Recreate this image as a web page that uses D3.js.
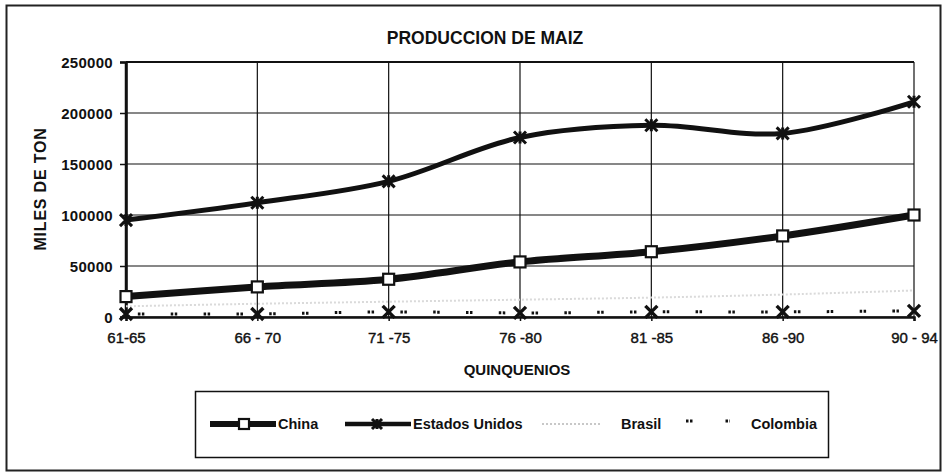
<!DOCTYPE html>
<html>
<head>
<meta charset="utf-8">
<script src="https://cdn.jsdelivr.net/npm/d3@7/dist/d3.min.js"></script>
<style>
  html, body { margin: 0; padding: 0; background: #fff; }
  svg text { font-family: "Liberation Sans", Arial, sans-serif; }
</style>
</head>
<body>
<svg id="chart" width="946" height="474"></svg>
<script>
// ---- Data ----
const categories = ["61-65", "66 - 70", "71 -75", "76 -80", "81 -85", "86 -90", "90 - 94"];
const china = [20000, 29500, 37000, 54000, 64000, 79500, 100000];
const estadosUnidos = [95000, 112000, 133000, 176000, 188000, 180000, 211000];
const brasil = [10500, 13000, 15000, 17000, 19000, 22000, 26000];
const colombia = [3000, 3000, 5000, 4000, 5000, 5000, 6000];
const yTicks = [0, 50000, 100000, 150000, 200000, 250000];
const seriesNames = ["China", "Estados Unidos", "Brasil", "Colombia"];

const svg = d3.select("#chart");
const plot = { left: 126, right: 914, top: 62, bottom: 317 };

// outer frame
svg.append("rect").attr("x", 6.5).attr("y", 5.5).attr("width", 934).attr("height", 465)
  .attr("fill", "none").attr("stroke", "#222").attr("stroke-width", 2);

const x = d3.scalePoint().domain(categories).range([plot.left, plot.right]);
const y = d3.scaleLinear().domain([0, 250000]).range([plot.bottom, plot.top]);

// gridlines
const g = svg.append("g");
g.selectAll(".hg").data(yTicks).enter().append("line")
  .attr("x1", plot.left).attr("x2", plot.right)
  .attr("y1", d => y(d)).attr("y2", d => y(d))
  .attr("stroke", "#111").attr("stroke-width", d => d === 250000 ? 2 : 1.2);
g.selectAll(".vg").data(categories).enter().append("line")
  .attr("x1", d => x(d)).attr("x2", d => x(d))
  .attr("y1", plot.top).attr("y2", plot.bottom)
  .attr("stroke", "#111").attr("stroke-width", (d, i) => i === 0 ? 2.5 : 1.2);

// y axis
const yAxis = d3.axisLeft(y).tickValues(yTicks).tickSize(6).tickFormat(d3.format("d"));
const ya = svg.append("g").attr("transform", `translate(${plot.left},0)`).call(yAxis);
ya.select(".domain").attr("stroke", "#111").attr("stroke-width", 2.5);
ya.selectAll(".tick line").attr("stroke", "#111").attr("stroke-width", 1.5);
ya.selectAll(".tick text").attr("font-size", 15).attr("font-weight", "bold")
  .attr("fill", "#111").attr("x", -13).attr("dy", "0.36em").attr("letter-spacing", 0.3);

// x axis
const xAxis = d3.axisBottom(x).tickSize(4);
const xa = svg.append("g").attr("transform", `translate(0,${plot.bottom})`).call(xAxis);
xa.select(".domain").attr("stroke", "#111").attr("stroke-width", 2.5);
xa.selectAll(".tick line").attr("stroke", "#111").attr("stroke-width", 1.5);
xa.selectAll(".tick text").attr("font-size", 15).attr("fill", "#111")
  .attr("stroke", "#111").attr("stroke-width", 0.4).attr("y", 15);

// titles
svg.append("text").attr("x", 485).attr("y", 44).attr("text-anchor", "middle")
  .attr("font-size", 17.5).attr("font-weight", "bold").attr("fill", "#111")
  .text("PRODUCCION DE MAIZ");
svg.append("text").attr("x", 517).attr("y", 375).attr("text-anchor", "middle")
  .attr("font-size", 15).attr("font-weight", "bold").attr("fill", "#111")
  .text("QUINQUENIOS");
svg.append("text").attr("transform", `translate(46,189) rotate(-90)`).attr("text-anchor", "middle")
  .attr("font-size", 16).attr("font-weight", "bold").attr("fill", "#111").attr("letter-spacing", 0.8)
  .text("MILES DE TON");

// lines
const curve = d3.curveCatmullRom.alpha(0.5);
const line = d3.line().x((d, i) => x(categories[i])).y(d => y(d)).curve(curve);

const pl = svg.append("g");
pl.append("path").datum(brasil).attr("d", line).attr("fill", "none")
  .attr("stroke", "#dadada").attr("stroke-width", 2).attr("stroke-dasharray", "2,2");
pl.append("path").datum(colombia).attr("d", line).attr("fill", "none")
  .attr("stroke", "#111").attr("stroke-width", 3).attr("stroke-dasharray", "2.5,1.5,2.5,26.3")
  .attr("stroke-dashoffset", -12);
pl.append("path").datum(china).attr("d", line).attr("fill", "none")
  .attr("stroke", "#111").attr("stroke-width", 7);
pl.append("path").datum(estadosUnidos).attr("d", line).attr("fill", "none")
  .attr("stroke", "#111").attr("stroke-width", 5);

// marker helpers
function squareMarker(sel, cx, cy, s) {
  sel.append("rect").attr("x", cx - s / 2).attr("y", cy - s / 2).attr("width", s).attr("height", s)
    .attr("fill", "#fff").attr("stroke", "#111").attr("stroke-width", 2.2);
}
function starMarker(sel, cx, cy, s) {
  const h = s / 2;
  sel.append("path").attr("d",
    `M${cx - h},${cy - h}L${cx + h},${cy + h}M${cx - h},${cy + h}L${cx + h},${cy - h}M${cx},${cy - h}L${cx},${cy + h}`)
    .attr("stroke", "#111").attr("stroke-width", 3).attr("fill", "none");
}
function xMarker(sel, cx, cy, s) {
  const h = s / 2;
  sel.append("path").attr("d",
    `M${cx - h},${cy - h}L${cx + h},${cy + h}M${cx - h},${cy + h}L${cx + h},${cy - h}`)
    .attr("stroke", "#111").attr("stroke-width", 3.4).attr("fill", "none");
}

const mk = svg.append("g");
colombia.forEach((v, i) => xMarker(mk, x(categories[i]), y(v), 12));
china.forEach((v, i) => squareMarker(mk, x(categories[i]), y(v), 11));
estadosUnidos.forEach((v, i) => starMarker(mk, x(categories[i]), y(v), 12));

// legend
const lg = svg.append("g");
lg.append("rect").attr("x", 195.5).attr("y", 391.5).attr("width", 633).attr("height", 66)
  .attr("fill", "#fff").attr("stroke", "#111").attr("stroke-width", 1.5);
const ly = 424;
lg.append("line").attr("x1", 210).attr("x2", 276).attr("y1", ly).attr("y2", ly)
  .attr("stroke", "#111").attr("stroke-width", 6);
squareMarker(lg, 244, ly, 10);
lg.append("line").attr("x1", 345).attr("x2", 411).attr("y1", ly).attr("y2", ly)
  .attr("stroke", "#111").attr("stroke-width", 4.5);
starMarker(lg, 377, ly, 10);
lg.append("line").attr("x1", 542).attr("x2", 600).attr("y1", ly).attr("y2", ly)
  .attr("stroke", "#c8c8c8").attr("stroke-width", 2).attr("stroke-dasharray", "2,2");
lg.append("line").attr("x1", 686).attr("x2", 730).attr("y1", ly - 3).attr("y2", ly - 3)
  .attr("stroke", "#111").attr("stroke-width", 3).attr("stroke-dasharray", "2.5,1.5,2.5,33");

const legendX = [278, 413, 621, 751];
lg.selectAll(".lt").data(seriesNames).enter().append("text")
  .attr("x", (d, i) => legendX[i]).attr("y", ly + 5)
  .attr("font-size", 14.5).attr("font-weight", "bold").attr("fill", "#111")
  .text(d => d);
</script>
</body>
</html>
